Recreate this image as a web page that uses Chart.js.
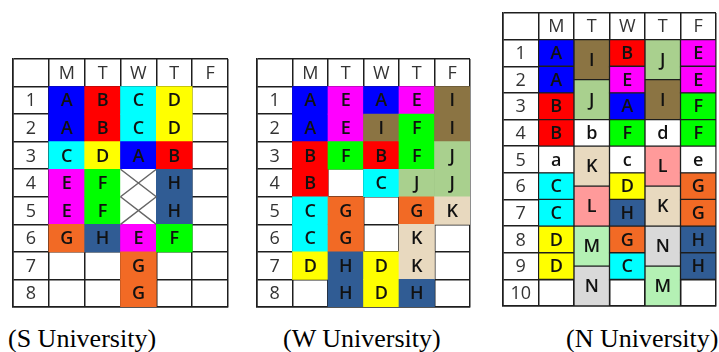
<!DOCTYPE html>
<html>
<head>
<meta charset="utf-8">
<script src="https://cdn.jsdelivr.net/npm/chart.js@4.4.0/dist/chart.umd.min.js"></script>
<style>
	body { margin: 0; background: #fff; width: 719px; height: 352px; position: relative; overflow: hidden; }
	.table { position: absolute; }
	.caption { position: absolute; top: 324px; font-family: "Liberation Serif", "Times New Roman", serif; font-size: 26px; line-height: 30px; color: #000; white-space: nowrap; }
</style>
</head>
<body>
<div class="table" style="left:11px; top:57px;"><canvas id="sUniv" width="219" height="252"></canvas></div>
<div class="table" style="left:255px; top:57px;"><canvas id="wUniv" width="217" height="252"></canvas></div>
<div class="table" style="left:501px; top:11px;"><canvas id="nUniv" width="217" height="297"></canvas></div>
<div class="caption" style="left:8px;">(S University)</div>
<div class="caption" style="left:283px;">(W University)</div>
<div class="caption" style="left:566px;">(N University)</div>
<script>
const dayKeys = ['Mon', 'Tue', 'Wed', 'Thu', 'Fri'];
const dayLabels = ['M', 'T', 'W', 'T', 'F'];

// S University: one course per period, x = blocked slot
const sPeriods = ['1', '2', '3', '4', '5', '6', '7', '8'];
const sMon = ['A', 'A', 'C', 'E', 'E', 'G', '', ''];
const sTue = ['B', 'B', 'D', 'F', 'F', 'H', '', ''];
const sWed = ['C', 'C', 'A', 'x', 'x', 'E', 'G', 'G'];
const sThu = ['D', 'D', 'B', 'H', 'H', 'F', '', ''];
const sFri = ['', '', '', '', '', '', '', ''];

// W University
const wPeriods = ['1', '2', '3', '4', '5', '6', '7', '8'];
const wMon = ['A', 'A', 'B', 'B', 'C', 'C', 'D', ''];
const wTue = ['E', 'E', 'F', '', 'G', 'G', 'H', 'H'];
const wWed = ['A', 'I', 'B', 'C', '', '', 'D', 'D'];
const wThu = ['E', 'F', 'F', 'J', 'G', 'K', 'K', 'H'];
const wFri = ['I', 'I', 'J', 'J', 'K', '', '', ''];

// N University: Tue/Thu run in 1.5 period blocks -> [course, from, to]
const nPeriods = ['1', '2', '3', '4', '5', '6', '7', '8', '9', '10'];
const nMon = ['A', 'A', 'B', 'B', 'a', 'C', 'C', 'D', 'D', ''];
const nTue = [['I', 1, 2.5], ['J', 2.5, 4], ['b', 4, 5], ['K', 5, 6.5], ['L', 6.5, 8], ['M', 8, 9.5], ['N', 9.5, 11]];
const nWed = ['B', 'E', 'A', 'F', 'c', 'D', 'H', 'G', 'C', ''];
const nThu = [['J', 1, 2.5], ['I', 2.5, 4], ['d', 4, 5], ['L', 5, 6.5], ['K', 6.5, 8], ['N', 8, 9.5], ['M', 9.5, 11]];
const nFri = ['E', 'E', 'F', 'F', 'e', 'G', 'G', 'H', 'H', ''];

const courseColors = {
	A: '#0000ff', B: '#ff0000', C: '#00ffff', D: '#ffff00', E: '#ff00ff', F: '#00ff00',
	G: '#f26a25', H: '#305c94', I: '#8b7443', J: '#a9d08e', K: '#e8d9bf', L: '#ff9a9a',
	M: '#b4f1b4', N: '#d9d9d9'
};
const lineColor = '#1e1e1e';

function toCells(days) {
	const cells = [];
	days.forEach((col, d) => {
		col.forEach((entry, i) => {
			if (Array.isArray(entry)) {
				cells.push({ x: dayKeys[d], y: [entry[1], entry[2]], course: entry[0] });
			} else if (entry) {
				cells.push({ x: dayKeys[d], y: [i + 1, i + 2], course: entry });
			}
		});
	});
	return cells;
}

function makeTable(canvasId, periods, days, boxed) {
	const cells = toCells(days);

	const cellText = {
		id: 'cellText',
		afterDraw(chart) {
			const { ctx, scales: { x, y } } = chart;
			ctx.save();
			ctx.textAlign = 'center';
			ctx.textBaseline = 'middle';

			ctx.font = '18px "Open Sans"';
			ctx.fillStyle = '#333';
			dayLabels.forEach((label, i) => {
				ctx.fillText(label, x.getPixelForValue(i + 1), y.getPixelForValue(0.5) + 1);
			});
			periods.forEach((label, i) => {
				ctx.fillText(label, x.getPixelForValue(0), y.getPixelForValue(i + 1.5) + 1);
			});

			ctx.font = '600 18px "Open Sans"';
			ctx.fillStyle = '#111';
			chart.getDatasetMeta(0).data.forEach((bar, i) => {
				const course = cells[i].course;
				const top = Math.min(bar.y, bar.base);
				const bottom = Math.max(bar.y, bar.base);
				const left = bar.x - bar.width / 2;
				const right = bar.x + bar.width / 2;
				if (course === 'x') {
					ctx.strokeStyle = '#666';
					ctx.lineWidth = 1.5;
					ctx.beginPath();
					ctx.moveTo(left, top);
					ctx.lineTo(right, bottom);
					ctx.moveTo(right, top);
					ctx.lineTo(left, bottom);
					ctx.stroke();
				} else {
					ctx.fillText(course, bar.x, (top + bottom) / 2 + 1);
				}
			});
			ctx.restore();
		}
	};

	return new Chart(document.getElementById(canvasId), {
		type: 'bar',
		data: {
			labels: ['head'].concat(dayKeys),
			datasets: [{
				data: cells,
				backgroundColor: ctx => courseColors[ctx.raw.course] || '#ffffff',
				borderColor: lineColor,
				borderWidth: boxed ? 1 : 0,
				borderSkipped: false,
				barPercentage: 1,
				categoryPercentage: 1
			}]
		},
		options: {
			responsive: false,
			animation: false,
			layout: { padding: 2 },
			plugins: { legend: { display: false }, tooltip: { enabled: false } },
			scales: {
				x: {
					type: 'category',
					offset: true,
					z: boxed ? 0 : 1,
					grid: { offset: true, color: lineColor, lineWidth: 1.5, drawTicks: false },
					border: { color: lineColor, width: 1.5 },
					ticks: { display: false }
				},
				y: {
					type: 'linear',
					reverse: true,
					min: 0,
					max: periods.length + 1,
					z: boxed ? 0 : 1,
					grid: { color: lineColor, lineWidth: 1.5, drawTicks: false },
					border: { color: lineColor, width: 1.5 },
					ticks: { display: false, stepSize: 1 }
				}
			}
		},
		plugins: [cellText]
	});
}

makeTable('sUniv', sPeriods, [sMon, sTue, sWed, sThu, sFri], false);
makeTable('wUniv', wPeriods, [wMon, wTue, wWed, wThu, wFri], false);
makeTable('nUniv', nPeriods, [nMon, nTue, nWed, nThu, nFri], true);
</script>
</body>
</html>
